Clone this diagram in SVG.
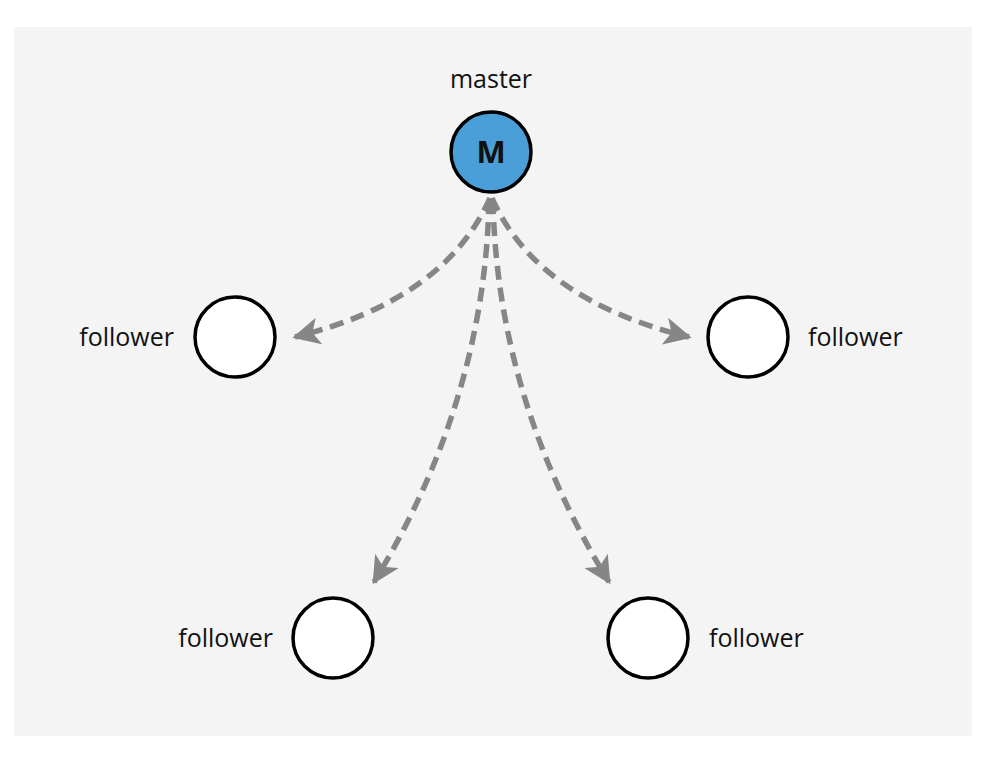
<svg xmlns="http://www.w3.org/2000/svg" width="984" height="764" viewBox="0 0 984 764">
<style>
.lbl{font-family:"Open Sans","Noto Sans",sans-serif;font-size:25px;fill:#111}
.node{fill:#fff;stroke:#000;stroke-width:3.5}
.conn{fill:none;stroke:#868686;stroke-width:5.5;stroke-dasharray:14 8}
</style>
<defs>
<marker id="arr" viewBox="0 0 10 10" refX="9" refY="5" markerWidth="5" markerHeight="5" orient="auto" markerUnits="strokeWidth">
<path d="M0,0 L10,5 L0,10 L2.5,5 Z" fill="#868686"/>
</marker>
</defs>
<rect x="14" y="27" width="958" height="709" fill="#f4f4f4"/>
<g id="connectors">
<path class="conn" d="M490,198 Q445,300 295,337" marker-end="url(#arr)"/>
<path class="conn" d="M492,198 Q537,300 689,337" marker-end="url(#arr)"/>
<path class="conn" d="M489,200 Q485,400 374,582" marker-end="url(#arr)"/>
<path class="conn" d="M493,200 Q497,400 609,582" marker-end="url(#arr)"/>
</g>
<g id="master">
<text class="lbl" x="491" y="88" text-anchor="middle">master</text>
<circle cx="491" cy="152" r="40" fill="#4a9fd8" stroke="#000" stroke-width="3.5"/>
<text x="491" y="163" text-anchor="middle" font-family="'Open Sans','Noto Sans',sans-serif" font-size="31" font-weight="bold" fill="#111">M</text>
</g>
<g id="follower-left">
<circle class="node" cx="235" cy="337" r="40"/>
<text class="lbl" x="174" y="346" text-anchor="end">follower</text>
</g>
<g id="follower-right">
<circle class="node" cx="748" cy="337" r="40"/>
<text class="lbl" x="808" y="346">follower</text>
</g>
<g id="follower-bottom-left">
<circle class="node" cx="333" cy="638" r="40"/>
<text class="lbl" x="273" y="647" text-anchor="end">follower</text>
</g>
<g id="follower-bottom-right">
<circle class="node" cx="648" cy="638" r="40"/>
<text class="lbl" x="709" y="647">follower</text>
</g>
</svg>
